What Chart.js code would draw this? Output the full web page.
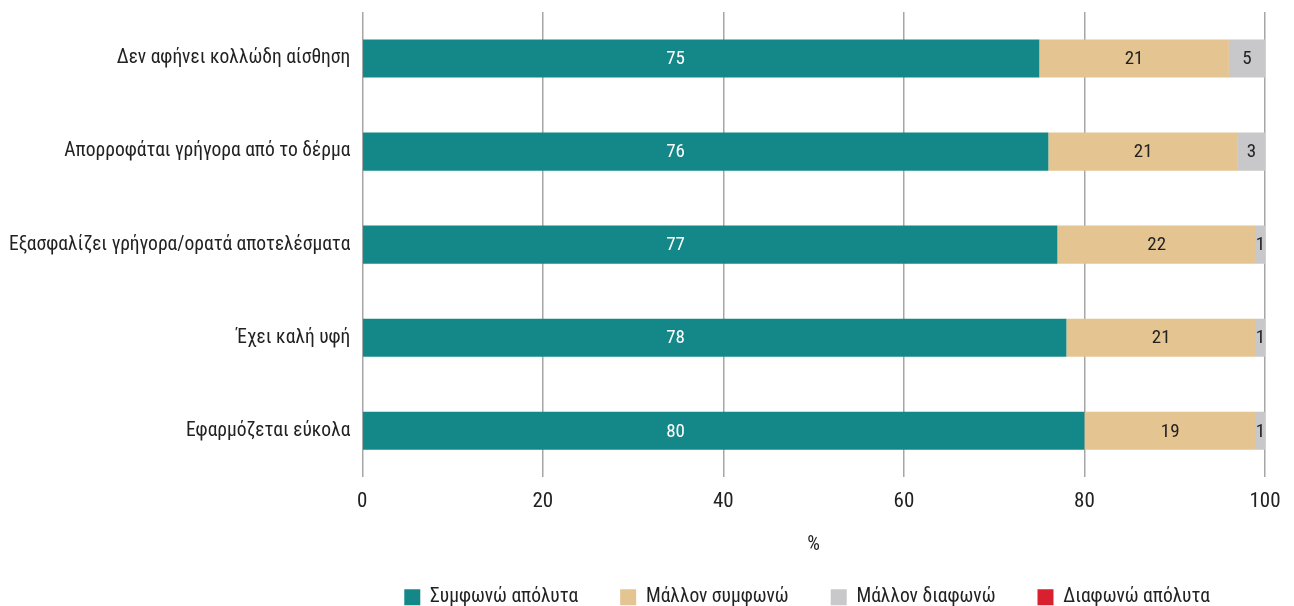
<!DOCTYPE html>
<html>
<head>
<meta charset="utf-8">
<script src="https://cdn.jsdelivr.net/npm/chart.js@4/dist/chart.umd.min.js"></script>
<style>
  html, body { margin: 0; padding: 0; background: #fff; }
  #wrap { width: 1294px; height: 606px; }
</style>
</head>
<body>
<div id="wrap"><canvas id="c"></canvas></div>
<script>
// categories, top to bottom
const categories = [
    "Δεν αφήνει κολλώδη αίσθηση",
    "Απορροφάται γρήγορα από το δέρμα",
    "Εξασφαλίζει γρήγορα/ορατά αποτελέσματα",
    "Έχει καλή υφή",
    "Εφαρμόζεται εύκολα"
];
const seriesNames = ["Συμφωνώ απόλυτα", "Μάλλον συμφωνώ", "Μάλλον διαφωνώ", "Διαφωνώ απόλυτα"];
const agreeFully = [75, 76, 77, 78, 80];
const agreeSome = [21, 21, 22, 21, 19];
const disagreeSome = [5, 3, 1, 1, 1];
const disagreeFully = [0, 0, 0, 0, 0];
const xTicks = [0, 20, 40, 60, 80, 100];

const colors = ["#148888", "#e4c490", "#c8c8ca", "#d8202f"];
const labelColors = ["#ffffff", "#222222", "#222222", "#ffffff"];
const FONT = "'Liberation Sans Narrow', 'Roboto Condensed', Roboto, sans-serif";
// the first series' labels all sit at one spot on the axis in the original
const firstLabelAt = 34.7;

// value labels, centred in the visible part of each bar
const barLabels = {
    id: "barLabels",
    afterDatasetsDraw(chart) {
        const ctx = chart.ctx;
        const area = chart.chartArea;
        const xs = chart.scales.x;
        ctx.save();
        ctx.font = "19px " + FONT;
        ctx.textAlign = "center";
        ctx.textBaseline = "middle";
        chart.data.datasets.forEach((ds, di) => {
            chart.getDatasetMeta(di).data.forEach((bar, i) => {
                const v = ds.data[i];
                if (!v) return;
                const left = Math.min(bar.base, bar.x);
                const right = Math.min(Math.max(bar.base, bar.x), area.right);
                if (right <= left) return;
                const x = di === 0 ? xs.getPixelForValue(firstLabelAt) : (left + right) / 2;
                ctx.fillStyle = labelColors[di];
                ctx.fillText(String(v), x, bar.y + 1);
            });
        });
        ctx.restore();
    }
};

const data = [agreeFully, agreeSome, disagreeSome, disagreeFully];

new Chart(document.getElementById("c"), {
    type: "bar",
    data: {
        labels: categories,
        datasets: data.map((vals, i) => ({
            label: seriesNames[i],
            data: vals,
            backgroundColor: colors[i],
            borderWidth: 0,
            categoryPercentage: 1,
            barPercentage: 0.41
        }))
    },
    options: {
        indexAxis: "y",
        responsive: true,
        maintainAspectRatio: false,
        animation: false,
        layout: { padding: { top: 12, right: 29, left: -3, bottom: -11 } },
        scales: {
            x: {
                stacked: true,
                min: 0,
                max: 100,
                afterBuildTicks: (axis) => { axis.ticks = xTicks.map((v) => ({ value: v })); },
                border: { display: false },
                grid: { color: "#a6a6a6", lineWidth: 1.5, drawTicks: false },
                ticks: { color: "#222", padding: 12, font: { size: 21, family: FONT } },
                title: { display: true, text: "%", color: "#222", padding: { top: 6, bottom: -11 }, font: { size: 20, family: FONT } }
            },
            y: {
                stacked: true,
                border: { display: false },
                grid: { display: false, drawTicks: false },
                ticks: { color: "#222", padding: 12, font: { size: 19.5, family: FONT } },
                // labels sit inside their bands, no overhang room needed
                afterFit: (s) => { s.paddingTop = 0; s.paddingBottom = 0; }
            }
        },
        plugins: {
            legend: {
                position: "bottom",
                fullSize: false,
                align: "start",
                labels: {
                    color: "#222",
                    boxWidth: 16,
                    boxHeight: 16,
                    padding: 42,
                    font: { size: 19.5, family: FONT }
                }
            },
            tooltip: { enabled: false }
        }
    },
    plugins: [barLabels]
});
</script>
</body>
</html>
